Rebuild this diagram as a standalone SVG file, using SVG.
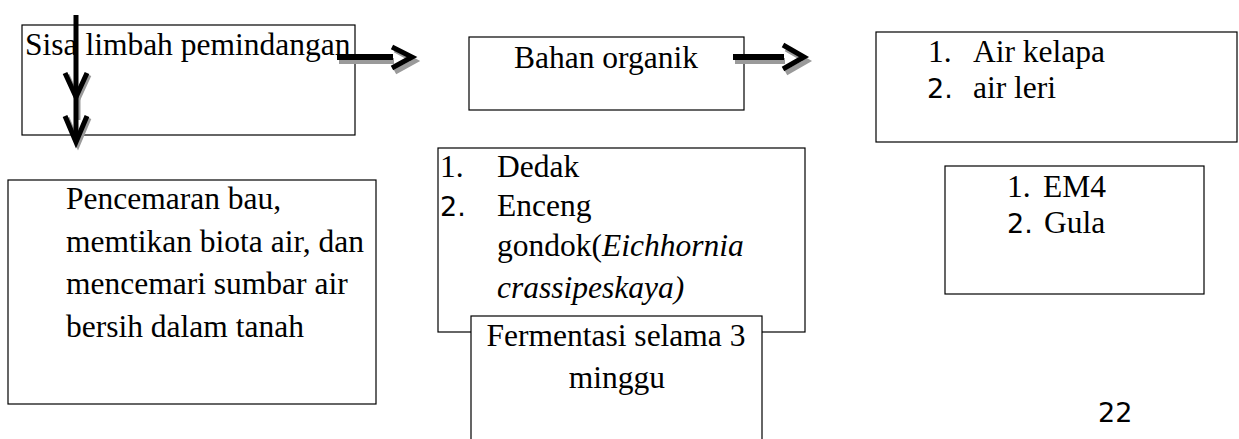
<svg xmlns="http://www.w3.org/2000/svg" width="1239" height="439" viewBox="0 0 1239 439">
<style>
.box{fill:#fff;stroke:#000;stroke-width:1.2}
.t{font-family:"Liberation Serif","Times New Roman",serif;font-size:31.5px;fill:#000}
.s{font-family:"DejaVu Sans",sans-serif;font-size:27px;fill:#000}
.i{font-style:italic}
.sh{fill:none;stroke:#9a9a9a;stroke-width:5}
.ar{fill:none;stroke:#000;stroke-width:5}
</style>
<rect width="1239" height="439" fill="#fff"/>
<g id="box-sisa">
<rect class="box" x="22" y="25" width="333" height="110"/>
<text class="t" x="25" y="55">Sisa limbah pemindangan</text>
</g>
<g id="box-bahan">
<rect class="box" x="469" y="37" width="275" height="73"/>
<text class="t" x="606" y="68" text-anchor="middle">Bahan organik</text>
</g>
<g id="box-air">
<rect class="box" x="876" y="32" width="361" height="110"/>
<text class="t" x="928" y="62">1.</text>
<text class="t" x="973" y="62">Air kelapa</text>
<text class="s" x="927" y="98">2.</text>
<text class="t" x="973" y="98">air leri</text>
</g>
<g id="box-pencemaran">
<rect class="box" x="8" y="180" width="368" height="224"/>
<text class="t" x="66" y="209">Pencemaran bau,</text>
<text class="t" x="66" y="252">memtikan biota air, dan</text>
<text class="t" x="66" y="294">mencemari sumbar air</text>
<text class="t" x="66" y="337">bersih dalam tanah</text>
</g>
<g id="box-dedak">
<rect class="box" x="438" y="148" width="367" height="184"/>
<text class="t" x="440" y="177">1.</text>
<text class="t" x="497" y="177">Dedak</text>
<text class="s" x="440" y="216">2.</text>
<text class="t" x="497" y="216">Enceng</text>
<text class="t" x="497" y="256">gondok(<tspan class="i">Eichhornia</tspan></text>
<text class="t i" x="497" y="298">crassipeskaya)</text>
</g>
<g id="box-fermentasi">
<rect class="box" x="471" y="316" width="291" height="135"/>
<text class="t" x="616" y="346" text-anchor="middle">Fermentasi selama 3</text>
<text class="t" x="617" y="388" text-anchor="middle">minggu</text>
</g>
<g id="box-em4">
<rect class="box" x="945" y="166" width="259" height="128"/>
<text class="t" x="1007" y="197">1.</text>
<text class="t" x="1043" y="197">EM4</text>
<text class="s" x="1007" y="233">2.</text>
<text class="t" x="1044" y="233">Gula</text>
</g>
<g id="page-number">
<text class="s" x="1098" y="422">22</text>
</g>
<g id="connectors">
<!-- vertical down arrow -->
<line x1="78" y1="97" x2="78" y2="120" stroke="#9a9a9a" stroke-width="5"/>
<polyline class="sh" points="67,75 78,99 89,75"/>
<polyline class="sh" points="67,118 78,144 89,118"/>
<line x1="76" y1="15" x2="76" y2="138" stroke="#000" stroke-width="5"/>
<polyline class="ar" points="65,73 76,97 87,73"/>
<polyline class="ar" points="65,116 76,142 87,116"/>
<!-- right arrow 1 -->
<line x1="339" y1="61" x2="394" y2="61" stroke="#9a9a9a" stroke-width="6"/>
<polyline class="sh" points="395,50 415,61 395,72"/>
<line x1="337" y1="57" x2="393" y2="57" stroke="#000" stroke-width="6"/>
<polyline class="ar" points="392,47 412,57 392,68"/>
<!-- right arrow 2 -->
<line x1="735" y1="61" x2="785" y2="61" stroke="#9a9a9a" stroke-width="6"/>
<polyline class="sh" points="786,49 807,61 786,73"/>
<line x1="733" y1="57" x2="784" y2="57" stroke="#000" stroke-width="6"/>
<polyline class="ar" points="783,45 804,57 783,69"/>
</g>
</svg>
